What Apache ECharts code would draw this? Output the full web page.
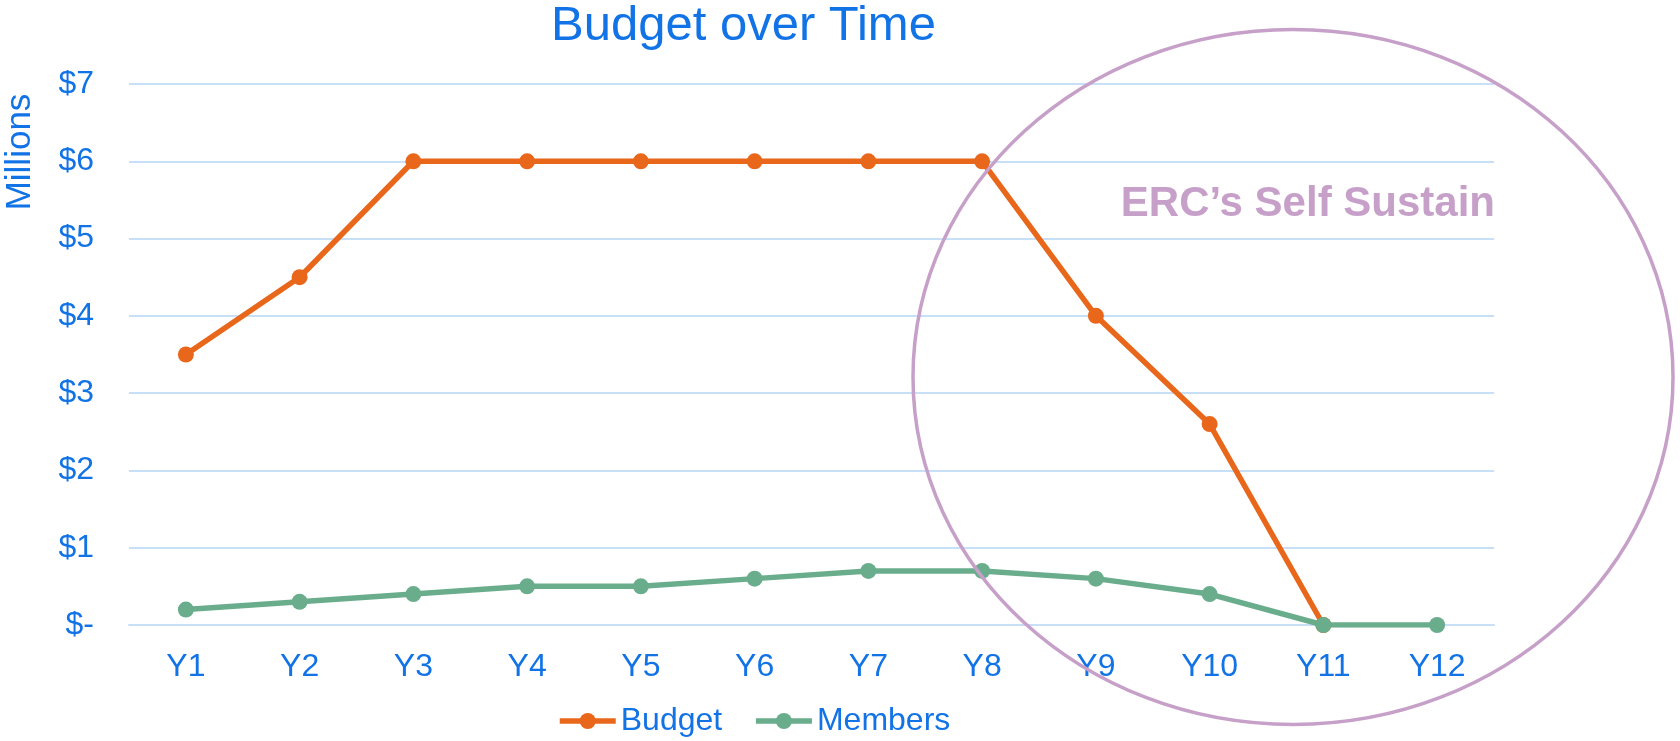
<!DOCTYPE html>
<html>
<head>
<meta charset="utf-8">
<script src="https://cdn.jsdelivr.net/npm/echarts@6/dist/echarts.min.js"></script>
<style>
html,body{margin:0;padding:0;background:#fff;}
#chart{width:1680px;height:741px;}
</style>
</head>
<body>
<div id="chart"></div>
<script>
var categories = ['Y1','Y2','Y3','Y4','Y5','Y6','Y7','Y8','Y9','Y10','Y11','Y12'];
var budget = [3.5, 4.5, 6, 6, 6, 6, 6, 6, 4, 2.6, 0, null];
var members = [0.2, 0.3, 0.4, 0.5, 0.5, 0.6, 0.7, 0.7, 0.6, 0.4, 0, 0];
var yTickLabels = ['$-', '$1', '$2', '$3', '$4', '$5', '$6', '$7'];

var BLUE = '#1273E6';
var GRID = '#C8DFF8';
var ORANGE = '#E8671B';
var GREEN = '#6AAD8C';
var PURPLE = '#C6A0C8';
var FONT = '"Liberation Sans", Arial, sans-serif';

var chart = echarts.init(document.getElementById('chart'), null, {renderer: 'canvas'});
chart.setOption({
  animation: false,
  backgroundColor: '#ffffff',
  title: {
    text: 'Budget over Time',
    left: 551,
    top: 2,
    padding: 0,
    textStyle: {color: BLUE, fontSize: 49, fontWeight: 'normal', fontFamily: FONT}
  },
  legend: {
    left: 557,
    top: 705,
    padding: 0,
    itemWidth: 56,
    itemHeight: 20,
    itemGap: 31,
    lineStyle: {width: 5.5},
    textStyle: {color: BLUE, fontSize: 32, fontFamily: FONT},
    data: ['Budget', 'Members']
  },
  grid: {left: 129, right: 186, top: 84, bottom: 116, containLabel: false},
  xAxis: {
    type: 'category',
    data: categories,
    boundaryGap: true,
    axisLine: {show: true, lineStyle: {color: GRID, width: 2}},
    axisTick: {show: false},
    axisLabel: {color: BLUE, fontSize: 32, fontFamily: FONT, margin: 26}
  },
  yAxis: {
    type: 'value',
    min: 0,
    max: 7,
    interval: 1,
    axisLine: {show: false},
    axisTick: {show: false},
    splitLine: {lineStyle: {color: GRID, width: 2}},
    axisLabel: {
      color: BLUE, fontSize: 32, fontFamily: FONT, margin: 35,
      formatter: function (v) { return yTickLabels[Math.round(v)]; }
    }
  },
  series: [
    {
      name: 'Budget',
      type: 'line',
      data: budget,
      symbol: 'circle',
      symbolSize: 16,
      lineStyle: {color: ORANGE, width: 5.5},
      itemStyle: {color: ORANGE}
    },
    {
      name: 'Members',
      type: 'line',
      data: members,
      symbol: 'circle',
      symbolSize: 16,
      lineStyle: {color: GREEN, width: 5.5},
      itemStyle: {color: GREEN}
    }
  ],
  graphic: [
    {
      type: 'text',
      x: 20,
      y: 152,
      rotation: Math.PI / 2,
      style: {text: 'Millions', fill: BLUE, font: '35px ' + FONT, textAlign: 'center', textVerticalAlign: 'middle'}
    },
    {
      type: 'text',
      x: 1495,
      y: 204,
      style: {text: 'ERC\u2019s Self Sustain', fill: PURPLE, font: 'bold 42px ' + FONT, textAlign: 'right', textVerticalAlign: 'middle'},
      z: 10
    },
    {
      type: 'ellipse',
      shape: {cx: 1293, cy: 377, rx: 380, ry: 347.5},
      style: {fill: 'none', stroke: PURPLE, lineWidth: 3.5},
      z: 10
    }
  ]
});
</script>
</body>
</html>
